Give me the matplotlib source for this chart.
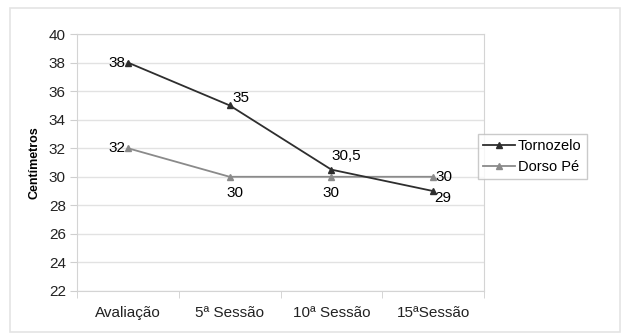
import matplotlib.pyplot as plt
from matplotlib.patches import Rectangle

plt.rcParams['font.family'] = ['Liberation Sans', 'DejaVu Sans']

sessoes = ['Avaliação', '5ª Sessão', '10ª Sessão', '15ªSessão']
tornozelo = [38, 35, 30.5, 29]
dorso_pe = [32, 30, 30, 30]
rotulos_tornozelo = ['38', '35', '30,5', '29']
rotulos_dorso = ['32', '30', '30', '30']

W, H = 622, 335
fig = plt.figure(figsize=(W / 100, H / 100), dpi=100)

# moldura externa
fig.patches.append(Rectangle((10 / W, 3 / H), 610 / W, 324 / H, transform=fig.transFigure,
                             fill=False, edgecolor='#e4e4e4', linewidth=1.2))

ax = fig.add_axes([77 / W, 44 / H, 407 / W, 257 / H])
x = list(range(len(sessoes)))

ax.plot(x, dorso_pe, color='#8a8a8a', marker='^', markersize=5, linewidth=1.3, label='Dorso Pé', zorder=3)
ax.plot(x, tornozelo, color='#2e2e2e', marker='^', markersize=5, linewidth=1.3, label='Tornozelo', zorder=4)

ax.set_xlim(-0.5, 3.5)
ax.set_ylim(22, 40)
ax.set_yticks(range(22, 41, 2))
ax.set_xticks(x)
ax.set_xticklabels(sessoes)
ax.set_xticks([-0.5, 0.5, 1.5, 2.5, 3.5], minor=True)
ax.tick_params(axis='x', which='major', length=0, pad=11, labelsize=11, colors='#222222')
ax.tick_params(axis='x', which='minor', length=5, color='#cfcfcf')
ax.tick_params(axis='y', length=5, color='#cfcfcf', labelsize=11, colors='#222222', pad=3)
ax.tick_params(axis='y', labelcolor='#222222')
ax.grid(axis='y', color='#e2e2e2', linewidth=1)
ax.set_axisbelow(True)
for s in ax.spines.values():
    s.set_color('#d4d4d4')
ax.set_ylabel('Centímetros', fontsize=9, fontweight='bold', labelpad=6)

fs = 11
# rótulos Tornozelo
ax.annotate(rotulos_tornozelo[0], (0, tornozelo[0]), xytext=(-1.5, 0), textcoords='offset points', ha='right', va='center', fontsize=fs, zorder=2)
ax.annotate(rotulos_tornozelo[1], (1, tornozelo[1]), xytext=(2, 5), textcoords='offset points', ha='left', va='center', fontsize=fs)
ax.annotate(rotulos_tornozelo[2], (2, tornozelo[2]), xytext=(0, 10), textcoords='offset points', ha='left', va='center', fontsize=fs)
ax.annotate(rotulos_tornozelo[3], (3, tornozelo[3]), xytext=(1, -5), textcoords='offset points', ha='left', va='center', fontsize=fs)
# rótulos Dorso Pé
ax.annotate(rotulos_dorso[0], (0, dorso_pe[0]), xytext=(-1.5, 0), textcoords='offset points', ha='right', va='center', fontsize=fs, zorder=2)
ax.annotate(rotulos_dorso[1], (1, dorso_pe[1]), xytext=(4, -12), textcoords='offset points', ha='center', va='center', fontsize=fs)
ax.annotate(rotulos_dorso[2], (2, dorso_pe[2]), xytext=(0, -12), textcoords='offset points', ha='center', va='center', fontsize=fs)
ax.annotate(rotulos_dorso[3], (3, dorso_pe[3]), xytext=(2, 0), textcoords='offset points', ha='left', va='center', fontsize=fs)

handles, labels = ax.get_legend_handles_labels()
leg = fig.legend(handles[::-1], labels[::-1], loc='upper left', bbox_to_anchor=(478 / W, 1 - 134 / H),
                 fontsize=10.5, frameon=True, fancybox=False, handlelength=2.2, handletextpad=0.2,
                 borderpad=0.35, labelspacing=0.45, borderaxespad=0)
leg.get_frame().set_edgecolor('#bdbdbd')
leg.get_frame().set_linewidth(1)

fig.savefig('out.png', dpi=100)
